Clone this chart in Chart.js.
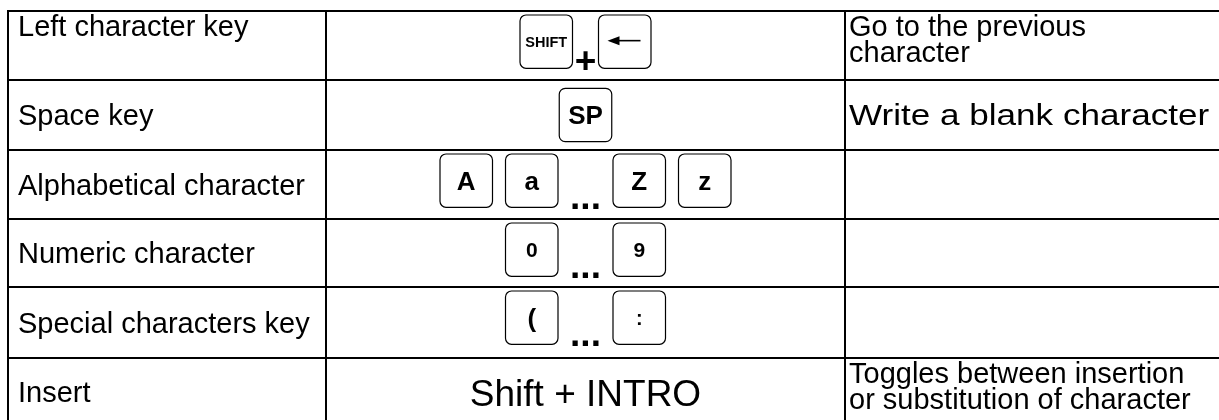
<!DOCTYPE html>
<html>
<head>
<meta charset="utf-8">
<title>Keyboard keys</title>
<script src="https://cdn.jsdelivr.net/npm/chart.js@4.4.1/dist/chart.umd.min.js"></script>
<style>
  html, body { margin: 0; padding: 0; background: #fff; }
  #wrap { width: 1219px; height: 420px; }
</style>
</head>
<body>
<div id="wrap"><canvas id="keysTable" width="1219" height="420"></canvas></div>
<script>
// table content
const rowNames = ['Left character key', 'Space key', 'Alphabetical character',
                  'Numeric character', 'Special characters key', 'Insert'];
const keyRows = [['SHIFT', '+', '←'], ['SP'], ['A', 'a', '...', 'Z', 'z'],
                 ['0', '...', '9'], ['(', '...', ':'], []];
const comboText = ['', '', '', '', '', 'Shift + INTRO'];
const descriptions = [['Go to the previous', 'character'], ['Write a blank character'],
                      [], [], [], ['Toggles between insertion', 'or substitution of character']];

// layout, in picture pixels
const colEdges = [8, 326, 845, 1240];
const rowEdges = [11, 80, 150, 219, 287, 358, 425];
const leftAlign = ['top', 'middle', 'middle', 'middle', 'middle', 'middle'];
const rightAlign = ['top', 'middle', 'middle', 'middle', 'middle', 'top'];
const rightStretch = [1, 1.21, 1, 1, 1, 1];   // that cell is set wider in the picture
const cellPad = [10, 4];
const keyW = 52.5, keyH = 53.3, keyGap = 13;
const sepW = { '+': 26, '...': 55 };
const sepDrop = { '+': 4.5, '...': 2 };
const FONT = '"Liberation Sans", Arial, Helvetica, sans-serif';
const textSize = 29, lineStep = 26.5;

function keyFontSize(label) {
    if (label.length > 2) return 14.5;
    if (/[0-9]/.test(label)) return 21;
    if (label === ':') return 20;
    return 26;
}

function roundBox(ctx, x, y, w, h, r) {
    ctx.beginPath();
    ctx.moveTo(x + r, y);
    ctx.lineTo(x + w - r, y);
    ctx.arcTo(x + w, y, x + w, y + r, r);
    ctx.lineTo(x + w, y + h - r);
    ctx.arcTo(x + w, y + h, x + w - r, y + h, r);
    ctx.lineTo(x + r, y + h);
    ctx.arcTo(x, y + h, x, y + h - r, r);
    ctx.lineTo(x, y + r);
    ctx.arcTo(x, y, x + r, y, r);
    ctx.closePath();
}

// writes the lines of a cell, top or middle aligned
function cellText(ctx, lines, left, top, bottom, align, stretch = 1) {
    if (!lines || !lines.length) return;
    ctx.font = textSize + 'px ' + FONT;
    ctx.textAlign = 'left';
    ctx.textBaseline = 'alphabetic';
    let base;
    if (align === 'top') {
        base = top + 24.5;
    } else {
        const block = (lines.length - 1) * lineStep;
        base = (top + bottom) / 2 + textSize * 0.358 - block / 2;
    }
    ctx.save();
    ctx.translate(left, 0);
    ctx.scale(stretch, 1);
    lines.forEach((line, i) => ctx.fillText(line, 0, base + i * lineStep));
    ctx.restore();
}

function drawKeys(ctx, labels, cx, top, bottom) {
    if (!labels.length) return;
    // total width of the row of keys
    let total = 0;
    labels.forEach((l, i) => {
        const isSep = l in sepW;
        total += isSep ? sepW[l] : keyW;
        if (i > 0 && !isSep && !(labels[i - 1] in sepW)) total += keyGap;
    });
    const hasSep = labels.some(l => l in sepW);
    const keyTop = hasSep ? top + 4 : (top + bottom) / 2 - keyH / 2;
    const keyBottom = keyTop + keyH;
    let x = cx - total / 2;

    labels.forEach((l, i) => {
        if (l in sepW) {
            ctx.font = 'bold 37px ' + FONT;
            ctx.textAlign = 'center';
            ctx.textBaseline = 'alphabetic';
            ctx.fillText(l, x + sepW[l] / 2, keyBottom + sepDrop[l]);
            x += sepW[l];
            return;
        }
        if (i > 0 && !(labels[i - 1] in sepW)) x += keyGap;

        ctx.lineWidth = 1.2;
        ctx.strokeStyle = '#000';
        roundBox(ctx, x, keyTop, keyW, keyH, 6);
        ctx.stroke();

        const midY = keyTop + keyH / 2;
        if (l === '←') {
            const y0 = midY - 1;
            ctx.lineWidth = 1.6;
            ctx.beginPath();
            ctx.moveTo(x + 19, y0);
            ctx.lineTo(x + 42, y0);
            ctx.stroke();
            ctx.beginPath();
            ctx.moveTo(x + 9, y0);
            ctx.lineTo(x + 21, y0 - 4.5);
            ctx.lineTo(x + 21, y0 + 4.5);
            ctx.closePath();
            ctx.fill();
        } else {
            const size = keyFontSize(l);
            ctx.font = 'bold ' + size + 'px ' + FONT;
            ctx.textAlign = 'center';
            ctx.textBaseline = 'alphabetic';
            ctx.fillText(l, x + keyW / 2, midY + size * 0.358);
        }
        x += keyW;
    });
}

const tablePlugin = {
    id: 'keyTable',
    afterDraw(chart) {
        const { ctx, scales: { x, y } } = chart;
        ctx.save();
        ctx.fillStyle = '#000';
        rowNames.forEach((name, r) => {
            const top = y.getPixelForValue(rowEdges[r]);
            const bottom = y.getPixelForValue(rowEdges[r + 1]);
            const c0 = x.getPixelForValue(colEdges[0]);
            const c1 = x.getPixelForValue(colEdges[1]);
            const c2 = x.getPixelForValue(colEdges[2]);

            cellText(ctx, [name], c0 + cellPad[0], top, bottom, leftAlign[r]);
            cellText(ctx, descriptions[r], c2 + cellPad[1], top, bottom, rightAlign[r], rightStretch[r]);

            const cx = (c1 + c2) / 2;
            drawKeys(ctx, keyRows[r], cx, top, bottom);
            if (comboText[r]) {
                ctx.font = '37px ' + FONT;
                ctx.textAlign = 'center';
                ctx.textBaseline = 'alphabetic';
                ctx.fillText(comboText[r], cx, (top + bottom) / 2 + 37 * 0.358 + 1.5);
            }
        });
        ctx.restore();
    }
};

// grid lines of the scales are the table rules
function edgeTicks(edges) {
    return scale => {
        scale.ticks = edges.filter(v => v >= scale.min && v <= scale.max).map(v => ({ value: v }));
    };
}

const ruleGrid = { color: '#000', lineWidth: 2, drawTicks: false };

new Chart(document.getElementById('keysTable').getContext('2d'), {
    type: 'scatter',
    data: { datasets: [] },
    options: {
        responsive: false,
        animation: false,
        layout: { padding: { left: 7, top: 10, right: 0, bottom: 0 } },
        plugins: { legend: { display: false }, tooltip: { enabled: false } },
        scales: {
            x: {
                type: 'linear', min: 7, max: 1219,
                afterBuildTicks: edgeTicks(colEdges),
                ticks: { display: false },
                grid: ruleGrid,
                border: { display: false }
            },
            y: {
                type: 'linear', min: 10, max: 420, reverse: true,
                afterBuildTicks: edgeTicks(rowEdges),
                ticks: { display: false },
                grid: ruleGrid,
                border: { display: false }
            }
        }
    },
    plugins: [tablePlugin]
});
</script>
</body>
</html>
